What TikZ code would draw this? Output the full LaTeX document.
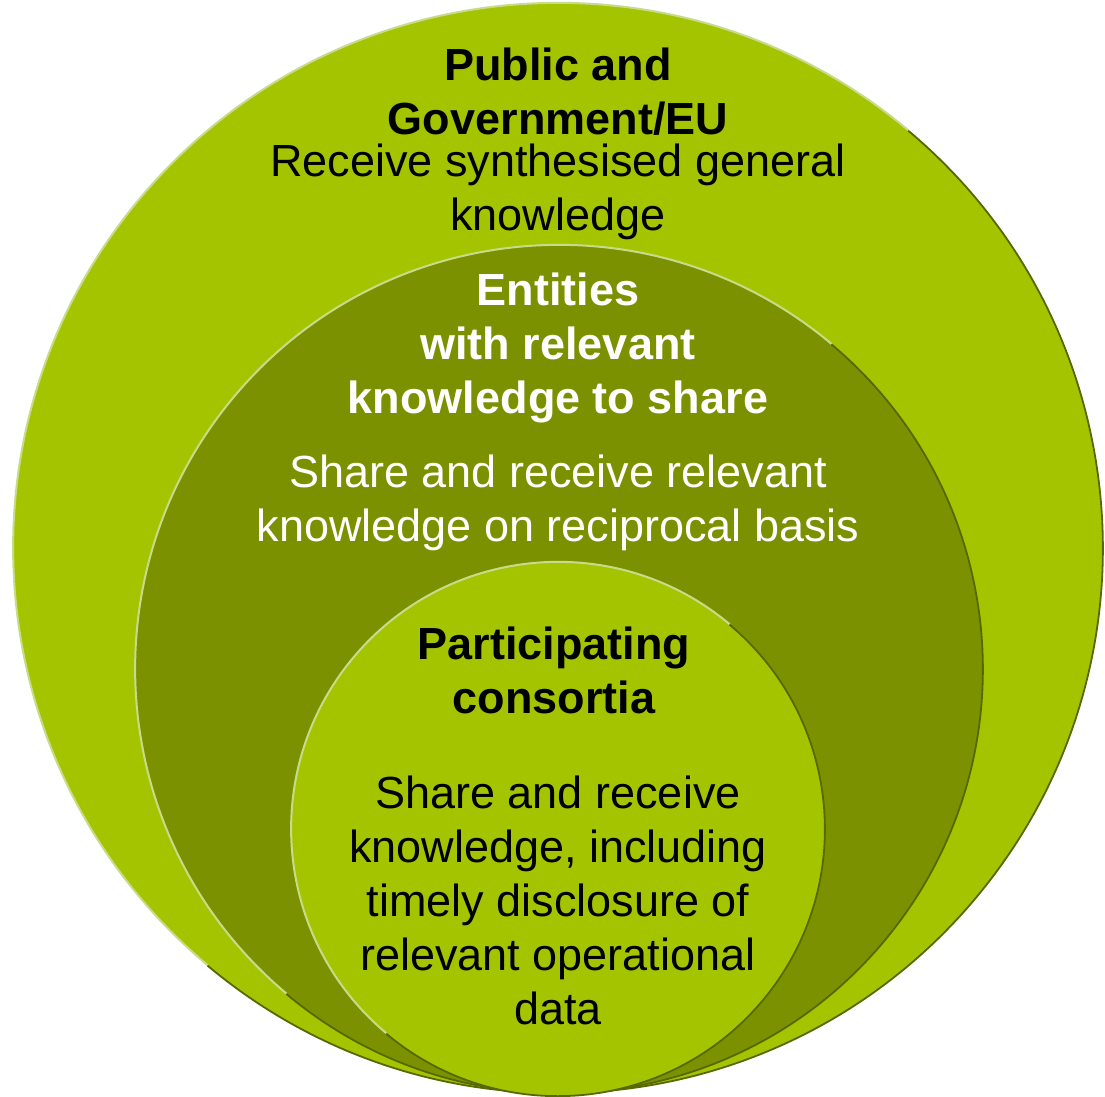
\documentclass[tikz,border=0pt]{standalone}
\usepackage{fontspec}
\setmainfont{Liberation Sans}
\usepackage{xcolor}
\usepackage{tikz}

\definecolor{verdeclaro}{HTML}{A5C400}
\definecolor{verdeoscuro}{HTML}{7B9100}
\definecolor{bordeclaro}{HTML}{C8DB8C}
\definecolor{bordeoscuro}{HTML}{566800}

\begin{document}
\begin{tikzpicture}[x=1pt, y=1pt,
    anillo/.style={circle, inner sep=0pt, draw=none},
    luz/.style={bordeclaro, line width=2pt},
    sombra/.style={bordeoscuro, line width=1.8pt},
    titulo/.style={align=center, font=\fontsize{45}{54}\selectfont\bfseries, inner sep=0pt},
    texto/.style={align=center, font=\fontsize{45}{54}\selectfont, inner sep=0pt}]
  \useasboundingbox (0,0) rectangle (1105,1096);

  % Circulo exterior
  \node[anillo, fill=verdeclaro, minimum size=1090pt] (publico) at (558,548) {};
  \draw[luz] (publico.50) arc[start angle=50, end angle=230, radius=545];
  \draw[sombra] (publico.230) arc[start angle=230, end angle=410, radius=545];

  % Circulo del medio
  \node[anillo, fill=verdeoscuro, minimum size=848pt] (entidades) at (559,427) {};
  \draw[luz] (entidades.50) arc[start angle=50, end angle=230, radius=424];
  \draw[sombra] (entidades.230) arc[start angle=230, end angle=410, radius=424];

  % Circulo interior
  \node[anillo, fill=verdeclaro, minimum size=534pt] (consorcios) at (558,267) {};
  \draw[luz] (consorcios.50) arc[start angle=50, end angle=230, radius=267];
  \draw[sombra] (consorcios.230) arc[start angle=230, end angle=410, radius=267];

  % Textos de arriba
  \node[titulo] (tpublico) at (558,1004) {Public and\\Government/EU};
  \node[texto] (dpublico) at (558,904) {Receive synthesised general\\knowledge};

  % Textos del medio
  \node[titulo, text=white] (tentidades) at (558,748) {Entities\\with relevant\\knowledge to share};
  \node[texto, text=white] (dentidades) at (558,593) {Share and receive relevant\\knowledge on reciprocal basis};

  % Textos de abajo
  \node[titulo] (tconsorcios) at (554,426) {Participating\\consortia};
  \node[texto] (dconsorcios) at (558,196) {Share and receive\\knowledge, including\\timely disclosure of\\relevant operational\\data};
\end{tikzpicture}
\end{document}
